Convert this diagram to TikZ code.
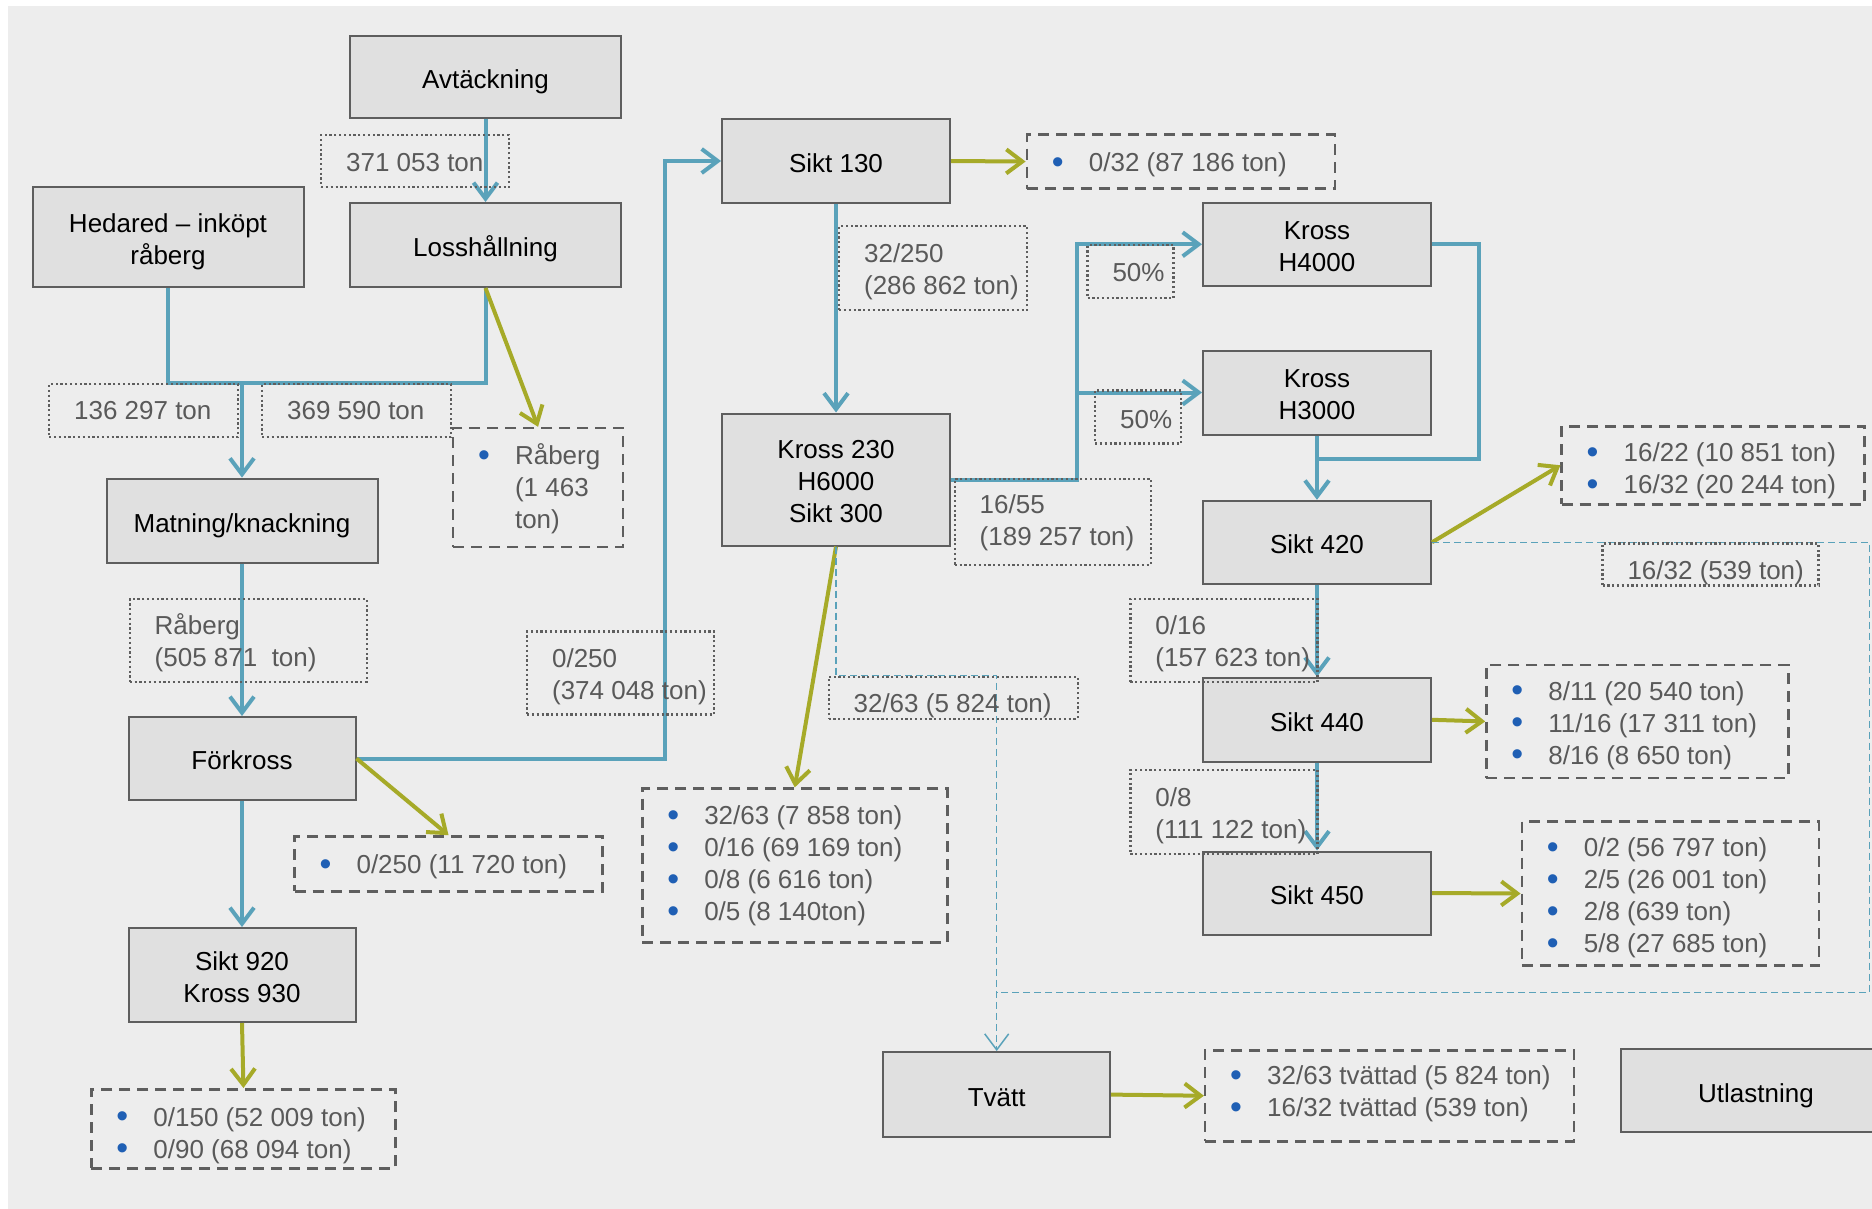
\documentclass[tikz,border=0pt]{standalone}
\usepackage{fontspec}
\usepackage{graphicx}
\setmainfont{Liberation Sans}
\usetikzlibrary{arrows.meta}
\definecolor{panel}{HTML}{EDEDED}
\definecolor{boxfill}{HTML}{E0E0E0}
\definecolor{boxline}{HTML}{5E5E5E}
\definecolor{labtext}{HTML}{595959}
\definecolor{flowblue}{HTML}{5AA2BA}
\definecolor{flowolive}{HTML}{A6AA28}
\definecolor{bulblue}{HTML}{1F5FB4}
\newcommand\dfont{\fontsize{26}{32}\selectfont}
\newcommand\bul{\makebox[37pt][l]{\textcolor{bulblue}{\raisebox{-1.8pt}{\scalebox{1.3}{•}}}}}
\newcommand\lbltxt[3][3.6pt]{\makebox[#2][l]{\hspace{25pt}\raisebox{-#1}[\height][\depth]{\begin{tabular}{@{}l@{}}#3\end{tabular}}}}
\newcommand\ptxt[1]{\raisebox{-5pt}[\height][\depth]{\begin{tabular}{@{}c@{}}#1\end{tabular}}}
\tikzset{
  proc/.style={draw=boxline, fill=boxfill, line width=2pt, inner sep=0pt, font=\dfont, text=black},
  lab/.style={draw=boxline, line width=2.2pt, dash pattern=on 2.2pt off 2.6pt, inner sep=0pt, anchor=north west, font=\dfont, text=labtext},
  outb/.style={draw=boxline, line width=2.5pt, dash pattern=on 11pt off 7pt, inner sep=0pt, anchor=north west, font=\dfont, text=labtext},
  bflow/.style={draw=flowblue, line width=4pt},
  oflow/.style={draw=flowolive, line width=4pt},
  tflow/.style={draw=flowblue, line width=1.5pt, dash pattern=on 7pt off 4pt},
  flowtip/.style={-{Straight Barb[length=16pt,width=24pt]}},
}
\begin{document}
\begin{tikzpicture}[x=1pt,y=-1pt]
\clip (0,0) rectangle (1872,1209);
\fill[white] (0,0) rectangle (1872,1209);
\fill[panel] (8,6) rectangle (1872,1209);

% process boxes
\node[proc, minimum width=271pt, minimum height=82pt] (avt) at (485.5,77) {\ptxt{Avtäckning}};
\node[proc, minimum width=271pt, minimum height=84pt] (loss) at (485.5,245) {\ptxt{Losshållning}};
\node[proc, minimum width=271pt, minimum height=100pt] (hed) at (168,237) {\ptxt{Hedared – inköpt\\råberg}};
\node[proc, minimum width=271pt, minimum height=84pt] (mat) at (242,520.6) {\ptxt{Matning/knackning}};
\node[proc, minimum width=227pt, minimum height=83pt] (fork) at (242,758.5) {\ptxt{Förkross}};
\node[proc, minimum width=227pt, minimum height=94pt] (s920) at (242,975) {\ptxt{Sikt 920\\Kross 930}};
\node[proc, minimum width=228pt, minimum height=84pt] (s130) at (836,161) {\ptxt{Sikt 130}};
\node[proc, minimum width=228pt, minimum height=132pt] (k230) at (836,479.5) {\ptxt{Kross 230\\H6000\\Sikt 300}};
\node[proc, minimum width=228pt, minimum height=83pt] (h4000) at (1317,244.3) {\ptxt{Kross\\H4000}};
\node[proc, minimum width=228pt, minimum height=84pt] (h3000) at (1317,392.5) {\ptxt{Kross\\H3000}};
\node[proc, minimum width=228pt, minimum height=83pt] (s420) at (1317,542.3) {\ptxt{Sikt 420}};
\node[proc, minimum width=228pt, minimum height=84pt] (s440) at (1317,719.8) {\ptxt{Sikt 440}};
\node[proc, minimum width=228pt, minimum height=83pt] (s450) at (1317,893) {\ptxt{Sikt 450}};
\node[proc, minimum width=227pt, minimum height=85pt] (tvatt) at (996.7,1094.6) {\ptxt{Tvätt}};
\node[proc, minimum width=271pt, minimum height=83pt] (utl) at (1756,1090.6) {\ptxt{Utlastning}};

% output boxes
\node[outb, minimum height=119pt] (orab) at (451.8,426.8) {\lbltxt[2.4pt]{170pt}{\bul Råberg\\\hspace{37pt}(1 463\\\hspace{37pt}ton)}};
\node[outb, minimum height=54pt] (o032) at (1025.6,133.3) {\lbltxt{308pt}{\bul 0/32 (87 186 ton)}};
\node[outb, minimum height=55pt] (o0250) at (293.3,835.2) {\lbltxt{308pt}{\bul 0/250 (11 720 ton)}};
\node[outb, minimum height=79pt] (o150) at (90.2,1088) {\lbltxt[7pt]{304pt}{\bul 0/150 (52 009 ton)\\\bul 0/90 (68 094 ton)}};
\node[outb, minimum height=154pt] (o3263) at (641,787.4) {\lbltxt[0.5pt]{305pt}{\bul 32/63 (7 858 ton)\\\bul 0/16 (69 169 ton)\\\bul 0/8 (6 616 ton)\\\bul 0/5 (8 140ton)}};
\node[outb, minimum height=78pt] (o1622) at (1560.4,425) {\lbltxt[6pt]{303pt}{\bul 16/22 (10 851 ton)\\\bul 16/32 (20 244 ton)}};
\node[outb, minimum height=113pt] (o811) at (1485.2,663.7) {\lbltxt[4.2pt]{302pt}{\bul 8/11 (20 540 ton)\\\bul 11/16 (17 311 ton)\\\bul 8/16 (8 650 ton)}};
\node[outb, minimum height=144pt] (o02) at (1520.6,820.3) {\lbltxt[5pt]{297pt}{\bul 0/2 (56 797 ton)\\\bul 2/5 (26 001 ton)\\\bul 2/8 (639 ton)\\\bul 5/8 (27 685 ton)}};
\node[outb, minimum height=91pt] (otv) at (1203.9,1049) {\lbltxt[-1.2pt]{369pt}{\bul 32/63 tvättad (5 824 ton)\\\bul 16/32 tvättad (539 ton)}};

% joints
\coordinate (j1) at (242,383);
\coordinate (b1) at (665,161);
\coordinate (b2) at (1077,479.5);
\coordinate (b3) at (1479,459.3);
\coordinate (d1) at (996.7,675.7);
\coordinate (d2) at (1869.5,992.5);

% blue flows
\draw[bflow] (hed.south) |- (loss.south |- j1) -- (loss.south);
\draw[bflow,flowtip] (j1) -- (mat.north);
\draw[bflow,flowtip] (avt.south) -- (loss.north);
\draw[bflow,flowtip] (mat.south) -- (fork.north);
\draw[bflow,flowtip] (fork.south) -- (s920.north);
\draw[bflow,flowtip] (fork.east) -| (b1) -- (s130.west);
\draw[bflow,flowtip] (s130.south) -- (k230.north);
\draw[bflow,flowtip] (k230.east) -- (b2) |- (h4000.west);
\draw[bflow,flowtip] (b2 |- h3000.west) -- (h3000.west);
\draw[bflow] (h4000.east) -| (b3) -- (b3 -| s420.north);
\draw[bflow,flowtip] (h3000.south) -- (s420.north);
\draw[bflow,flowtip] (s420.south) -- (s440.north);
\draw[bflow,flowtip] (s440.south) -- (s450.north);

% olive flows
\draw[oflow,flowtip] (loss.south) -- (orab.north);
\draw[oflow,flowtip] (fork.east) -- (o0250.north);
\draw[oflow,flowtip] (s920.south) -- (o150.north);
\draw[oflow,flowtip] (s130.east) -- (o032.west);
\draw[oflow,flowtip] (k230.south) -- (o3263.north);
\draw[oflow,flowtip] (s420.east) -- (o1622.west);
\draw[oflow,flowtip] (s440.east) -- (o811.west);
\draw[oflow,flowtip] (s450.east) -- (o02.west);
\draw[oflow,flowtip] (tvatt.east) -- (otv.west);

% thin dashed flows to washing
\draw[tflow,flowtip] (k230.south) |- (d1) -- (tvatt.north);
\draw[tflow] (s420.east) -| (d2) -- (d2 -| tvatt.north);

% dotted quantity labels
\node[lab, minimum height=52pt] (l371) at (320,134) {\lbltxt{188pt}{371 053 ton}};
\node[lab, minimum height=53pt] (l136) at (48,383) {\lbltxt[2.4pt]{189pt}{136 297 ton}};
\node[lab, minimum height=53pt] (l369) at (261,383) {\lbltxt[2.4pt]{189pt}{369 590 ton}};
\node[lab, minimum height=83pt] (lrab) at (128.6,597.6) {\lbltxt{237pt}{Råberg\\(505 871\ \ ton)}};
\node[lab, minimum height=83pt] (l0250) at (526,630.4) {\lbltxt{187pt}{0/250\\(374 048 ton)}};
\node[lab, minimum height=84pt] (l32250) at (838,225) {\lbltxt{188pt}{32/250\\(286 862 ton)}};
\node[lab, minimum height=53pt] (l50a) at (1086.4,244) {\lbltxt{86pt}{50\%}};
\node[lab, minimum height=53pt] (l50b) at (1094,389.3) {\lbltxt[4.8pt]{86pt}{50\%}};
\node[lab, minimum height=86pt] (l1655) at (953.6,477.7) {\lbltxt[1.2pt]{196pt}{16/55\\(189 257 ton)}};
\node[lab, minimum height=42pt] (l3263) at (827.5,675.7) {\lbltxt[8.4pt]{249pt}{32/63 (5 824 ton)}};
\node[lab, minimum height=42pt] (l539) at (1601.4,542.3) {\lbltxt[8.4pt]{216pt}{16/32 (539 ton)}};
\node[lab, minimum height=83pt] (l016) at (1129.3,598) {\lbltxt{187pt}{0/16\\(157 623 ton)}};
\node[lab, minimum height=84pt] (l08) at (1129.3,769) {\lbltxt{187pt}{0/8\\(111 122 ton)}};
\end{tikzpicture}
\end{document}
